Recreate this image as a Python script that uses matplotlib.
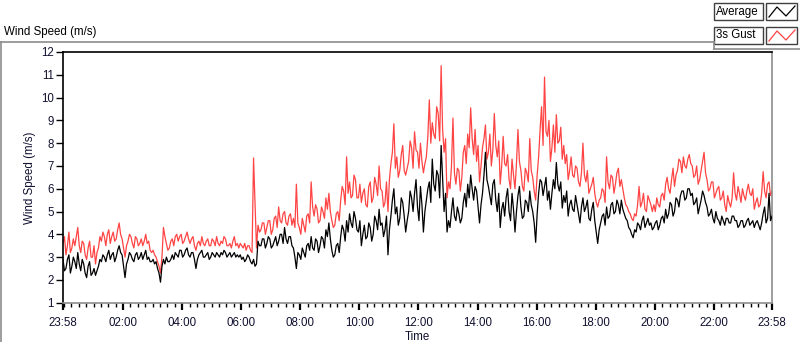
import numpy as np
import matplotlib
matplotlib.use("Agg")
import matplotlib.pyplot as plt
from matplotlib.lines import Line2D
from matplotlib.patches import Rectangle

# ---- data (3-minute samples starting 23:58) ----
sample_minutes = 3
average = [
    2.9, 2.4, 2.5, 2.9, 3.1, 2.3, 2.6, 3.0, 2.8, 2.5, 3.2, 2.7, 2.4, 2.9, 2.7, 2.3, 2.1, 2.6, 2.8, 2.2,
    2.3, 2.5, 2.2, 2.4, 2.6, 2.9, 2.8, 3.1, 3.0, 2.8, 3.1, 3.3, 2.9, 3.1, 3.2, 2.8, 3.0, 3.3, 3.5, 3.2,
    3.1, 2.6, 2.1, 2.7, 2.9, 3.2, 3.1, 2.9, 2.8, 3.1, 3.2, 2.9, 3.0, 3.2, 2.9, 3.1, 3.3, 2.9, 3.0, 2.8,
    2.8, 2.9, 2.7, 2.8, 2.5, 2.3, 1.9, 2.6, 2.9, 2.7, 3.0, 2.8, 2.8, 2.9, 3.1, 2.9, 3.2, 3.1, 3.0, 3.3,
    3.3, 3.0, 3.1, 3.3, 3.4, 3.1, 3.0, 3.2, 3.2, 2.9, 2.5, 2.9, 3.1, 3.2, 3.3, 3.0, 3.0, 3.1, 3.2, 2.9,
    3.0, 3.2, 3.1, 3.0, 3.2, 3.1, 3.0, 3.2, 3.1, 3.3, 3.2, 3.0, 3.1, 3.2, 3.0, 3.1, 3.2, 3.0, 3.1, 3.0,
    3.1, 2.9, 3.0, 2.8, 2.9, 3.1, 3.0, 2.8, 2.7, 2.9, 2.6, 2.7, 3.7, 3.5, 3.5, 3.8, 3.8, 3.4, 3.6, 3.9,
    3.8, 3.4, 3.5, 3.7, 3.9, 3.5, 3.7, 4.0, 4.0, 3.6, 4.3, 3.8, 3.6, 3.9, 3.9, 3.5, 3.4, 3.0, 2.5, 3.2,
    3.1, 2.9, 3.4, 3.2, 3.0, 3.5, 3.6, 3.3, 3.9, 3.4, 3.3, 3.8, 3.7, 3.2, 3.5, 3.9, 3.8, 3.4, 4.2, 3.9,
    4.5, 3.8, 3.3, 3.0, 3.1, 3.5, 3.6, 3.2, 3.9, 4.4, 4.2, 3.7, 4.6, 4.1, 4.9, 4.5, 4.3, 5.0, 4.7, 4.2,
    4.1, 4.6, 3.5, 4.0, 4.4, 3.8, 3.9, 4.5, 4.3, 3.7, 4.0, 4.8, 4.6, 4.2, 5.1, 4.4, 4.5, 3.9, 4.2, 4.8,
    3.1, 4.2, 4.8, 5.5, 6.0, 4.9, 5.2, 4.4, 4.7, 5.6, 5.4, 4.8, 4.1, 4.6, 5.0, 5.9, 5.6, 5.0, 5.8, 6.4,
    5.2, 4.6, 6.1, 5.3, 4.1, 5.0, 5.5, 6.0, 6.3, 5.4, 7.3, 6.2, 5.9, 6.8, 6.6, 5.6, 7.9, 6.4, 5.0, 5.8,
    4.1, 4.6, 4.3, 5.0, 5.6, 4.8, 4.6, 5.2, 4.9, 4.5, 4.7, 5.4, 5.8, 5.2, 6.2, 5.6, 6.6, 6.0, 5.5, 6.1,
    5.9, 5.2, 4.5, 5.3, 5.8, 6.6, 7.6, 6.4, 6.1, 5.7, 5.3, 6.2, 6.4, 5.5, 5.0, 5.8, 4.3, 5.1, 5.4, 4.8,
    5.6, 6.0, 5.0, 4.6, 5.8, 5.1, 4.1, 5.0, 5.7, 6.1, 5.2, 4.7, 4.8, 5.5, 5.4, 5.0, 5.9, 5.3, 5.0, 4.5,
    3.65, 4.9, 5.8, 6.4, 6.3, 5.7, 6.1, 6.5, 5.5, 5.9, 5.1, 5.8, 6.4, 6.0, 7.15, 6.2, 5.9, 6.3, 5.15, 5.7,
    5.4, 5.9, 4.8, 5.3, 5.5, 5.1, 5.0, 5.7, 5.3, 4.9, 4.5, 5.2, 5.6, 5.0, 5.2, 5.5, 4.7, 4.6, 5.1, 5.4,
    4.6, 4.1, 3.6, 4.2, 4.5, 4.8, 4.9, 4.4, 5.2, 4.7, 4.8, 5.3, 5.4, 4.9, 5.0, 5.5, 5.3, 4.9, 5.5, 5.1,
    4.9, 4.7, 4.6, 4.3, 4.2, 4.0, 3.85, 4.2, 4.1, 4.5, 4.4, 4.2, 4.6, 4.8, 4.3, 4.5, 4.7, 4.4, 4.5, 4.2,
    4.3, 4.5, 4.6, 4.2, 4.4, 4.7, 4.8, 4.5, 5.1, 4.7, 4.9, 5.4, 5.3, 4.8, 5.0, 5.6, 5.5, 5.2, 5.7, 5.9,
    5.9, 5.5, 5.6, 6.0, 6.0, 5.7, 5.8, 5.3, 5.4, 5.6, 4.9, 5.2, 5.5, 5.9, 5.7, 5.4, 5.2, 4.8, 4.9, 5.1,
    4.7, 4.5, 5.0, 4.7, 4.6, 4.4, 4.8, 4.6, 4.4, 4.7, 4.7, 4.5, 4.5, 4.8, 4.8, 4.6, 4.6, 4.3, 4.4, 4.6,
    4.6, 4.3, 4.4, 4.6, 4.7, 4.4, 4.5, 4.6, 4.3, 4.5, 4.6, 4.4, 4.2, 4.5, 4.9, 5.2, 4.5, 4.7, 5.8, 4.6,
    4.8,
]
gust_3s = [
    3.6, 3.9, 3.1, 3.5, 4.1, 3.2, 3.4, 3.8, 3.5, 3.9, 4.3, 3.5, 3.2, 3.7, 3.6, 3.1, 2.9, 3.4, 3.7, 3.0,
    3.0, 3.5, 2.7, 3.2, 3.4, 3.9, 3.7, 4.1, 3.9, 3.5, 4.0, 4.2, 3.6, 3.9, 4.1, 3.7, 3.8, 4.2, 4.5, 4.0,
    3.8, 3.4, 3.0, 3.5, 3.7, 4.0, 3.9, 3.6, 3.4, 3.9, 3.8, 3.5, 3.6, 3.8, 3.5, 3.7, 4.0, 3.6, 3.7, 3.3,
    3.2, 3.3, 3.1, 3.0, 2.8, 2.6, 2.3, 3.0, 4.3, 3.9, 3.6, 3.3, 3.4, 3.7, 3.8, 3.5, 3.9, 4.0, 3.7, 3.9,
    4.0, 3.6, 3.7, 3.9, 4.1, 3.8, 3.6, 3.8, 3.9, 3.5, 3.3, 3.6, 3.7, 3.5, 3.9, 3.6, 3.5, 3.7, 3.8, 3.5,
    3.5, 3.8, 3.7, 3.5, 3.9, 3.6, 3.5, 3.7, 3.6, 3.9, 3.8, 3.5, 3.5, 3.6, 3.4, 3.7, 3.9, 3.5, 3.6, 3.4,
    3.6, 3.5, 3.4, 3.6, 3.3, 3.5, 3.5, 3.3, 3.2, 7.35, 5.3, 3.4, 4.4, 4.1, 4.2, 4.5, 4.5, 4.0, 4.3, 4.6,
    4.6, 4.0, 4.2, 4.7, 4.8, 4.3, 5.2, 4.6, 4.5, 4.9, 5.0, 4.5, 4.4, 4.8, 4.9, 4.4, 4.7, 4.3, 6.2, 4.5,
    4.3, 4.0, 4.7, 4.4, 4.1, 4.8, 4.9, 4.5, 6.3, 5.2, 4.8, 5.3, 5.1, 4.5, 4.6, 5.2, 5.0, 4.7, 5.6, 5.1,
    5.8, 5.0, 4.6, 4.3, 4.4, 4.9, 5.0, 4.6, 5.5, 6.1, 5.9, 5.3, 7.4, 5.8, 6.3, 5.6, 5.7, 6.6, 6.4, 5.6,
    5.6, 6.2, 5.4, 5.8, 6.0, 5.3, 5.2, 6.1, 6.3, 5.4, 5.6, 6.5, 6.2, 5.7, 7.0, 6.0, 5.9, 5.2, 5.4, 6.3,
    5.0, 6.4, 7.1, 7.6, 8.85, 6.9, 7.4, 6.5, 6.8, 7.5, 7.9, 6.8, 6.6, 6.9, 7.2, 8.1, 7.8, 6.9, 8.5, 7.7,
    7.6, 6.9, 8.0, 7.2, 6.7, 7.1, 7.4, 8.3, 9.9, 8.0, 8.9, 8.4, 8.2, 9.6, 9.3, 8.1, 11.4, 8.6, 7.6, 8.2,
    5.6, 6.3, 6.0, 7.0, 9.1, 6.7, 6.2, 6.9, 6.8, 5.9, 6.5, 7.6, 7.9, 7.1, 8.4, 7.8, 9.55, 8.2, 7.5, 8.6,
    7.2, 7.9, 6.3, 7.0, 7.8, 8.2, 8.8, 7.3, 7.6, 8.4, 7.0, 7.7, 9.3, 7.9, 7.4, 8.1, 6.2, 7.0, 8.3, 7.1,
    7.0, 7.5, 6.4, 6.0, 7.3, 6.6, 6.0, 7.1, 8.6, 7.2, 6.8, 6.1, 5.9, 6.9, 6.7, 6.3, 8.2, 6.8, 6.5, 5.9,
    5.5, 6.6, 7.4, 8.6, 9.6, 7.9, 10.9, 8.5, 8.3, 9.0, 7.2, 7.8, 8.8, 7.6, 9.25, 8.0, 8.1, 8.7, 7.3, 7.9,
    7.1, 7.5, 6.4, 6.8, 7.4, 6.6, 6.5, 7.0, 6.9, 6.3, 6.1, 6.7, 8.0, 6.6, 6.3, 6.8, 5.8, 6.0, 6.2, 6.5,
    5.8, 5.4, 5.2, 5.5, 5.6, 6.0, 5.9, 5.4, 7.4, 6.3, 6.0, 6.6, 6.5, 5.8, 6.2, 6.7, 6.9, 6.1, 6.4, 6.0,
    5.6, 5.3, 5.2, 5.0, 4.9, 4.7, 4.6, 4.9, 4.8, 5.3, 6.1, 5.2, 5.4, 5.8, 5.1, 5.0, 5.7, 5.5, 5.3, 5.0,
    5.3, 5.0, 5.6, 5.3, 5.2, 5.7, 5.8, 5.5, 6.2, 6.5, 6.0, 5.8, 6.4, 6.9, 6.1, 6.6, 6.8, 7.3, 7.2, 6.7,
    7.4, 7.0, 6.9, 7.3, 7.5, 7.1, 7.0, 6.5, 6.6, 7.0, 6.2, 6.4, 6.8, 7.2, 7.6, 6.7, 6.4, 5.9, 6.0, 6.3,
    6.3, 5.6, 5.8, 6.0, 6.1, 5.5, 5.6, 5.9, 5.3, 5.0, 5.7, 5.4, 5.2, 5.6, 6.7, 5.8, 5.5, 6.1, 5.8, 5.4,
    6.0, 5.7, 5.5, 5.9, 6.2, 5.8, 5.7, 6.0, 5.1, 5.4, 5.6, 5.2, 5.3, 5.8, 6.75, 5.9, 5.6, 6.2, 6.3, 5.7,
    5.9,
]
x_tick_labels = ["23:58", "02:00", "04:00", "06:00", "08:00", "10:00", "12:00",
                 "14:00", "16:00", "18:00", "20:00", "22:00", "23:58"]
y_ticks = list(range(1, 13))
start_label = "23:58"
span_minutes = 1440

# ---- helpers ----
def minutes_from_start(label, idx):
    h, m = map(int, label.split(":"))
    sh, sm = map(int, start_label.split(":"))
    d = (h * 60 + m) - (sh * 60 + sm)
    if d < 0 or (idx > 0 and d == 0):
        d += 1440
    return d

major_pos = [minutes_from_start(l, i) for i, l in enumerate(x_tick_labels)]
minor_pos = [m for m in range(2, span_minutes, 15)]

t_avg = np.arange(len(average)) * sample_minutes
t_gust = np.arange(len(gust_3s)) * sample_minutes

W, H = 800, 342
fig = plt.figure(figsize=(W / 100, H / 100), dpi=100)
fig.patch.set_facecolor("white")
plt.rcParams["font.family"] = ["Liberation Sans", "DejaVu Sans"]

def fx(px):
    return px / W

def fy(py):
    return 1 - py / H

ax = fig.add_axes([fx(63), fy(302.7), fx(772) - fx(63), fy(52) - fy(302.7)])
ax.plot(t_gust, gust_3s, color="#ff4444", lw=0.9, zorder=2)
ax.plot(t_avg, average, color="#000000", lw=0.9, zorder=3)

ax.set_xlim(0, span_minutes)
ax.set_ylim(1, 12)
ax.set_yticks(y_ticks)
ax.set_yticklabels([str(v) for v in y_ticks])
ax.set_xticks(major_pos)
ax.set_xticklabels(x_tick_labels)
ax.set_xticks(minor_pos, minor=True)

txt_color = "#101030"
ax.tick_params(axis="y", direction="out", length=5, width=1, pad=1.5,
               labelsize=8.3, colors="#000000", labelcolor=txt_color)
ax.tick_params(axis="x", which="major", direction="out", length=5, width=1.6,
               pad=5, labelsize=8.3, colors="#000000", labelcolor=txt_color)
ax.tick_params(axis="x", which="minor", direction="out", length=3, width=1,
               colors="#000000")

for s in ["left", "top"]:
    ax.spines[s].set_color("#000000")
    ax.spines[s].set_linewidth(1.2)
for s in ["right", "bottom"]:
    ax.spines[s].set_color("#8c8c8c")
    ax.spines[s].set_linewidth(1.2)

ax.set_ylabel("Wind Speed (m/s)", fontsize=8.3, color=txt_color, labelpad=4)
ax.set_xlabel("Time", fontsize=8.3, color=txt_color, labelpad=2)

# ---- title and frame ----
fig.text(fx(4), fy(32), "Wind Speed (m/s)", fontsize=8.3, color="#000000",
         ha="left", va="center")
frame = dict(color="#8c8c8c", lw=1.2, transform=fig.transFigure)
fig.add_artist(Line2D([fx(0.6), fx(0.6)], [fy(42), fy(342)], **frame))
fig.add_artist(Line2D([fx(0), fx(714)], [fy(42), fy(42)], **frame))
fig.add_artist(Line2D([fx(714), fx(714)], [fy(42), fy(49)], **frame))
fig.add_artist(Line2D([fx(714), fx(800)], [fy(49), fy(49)], **frame))

# ---- legend ----
legend_items = [("Average", "#000000", 3), ("3s Gust", "#ff4444", 27)]
for name, col, top in legend_items:
    fig.add_artist(Rectangle((fx(714), fy(top + 17)), fx(763) - fx(714),
                             fy(top) - fy(top + 17), transform=fig.transFigure,
                             facecolor="white", edgecolor="#404040", lw=1.0))
    fig.text(fx(716), fy(top + 8.5), name, fontsize=8.3, color="#000000",
             ha="left", va="center")
    fig.add_artist(Rectangle((fx(766), fy(top + 17)), fx(797) - fx(766),
                             fy(top) - fy(top + 17), transform=fig.transFigure,
                             facecolor="white", edgecolor="#404040", lw=1.0))
    zx = [769, 777, 786, 795]
    zy = [top + 14, top + 4, top + 13, top + 3]
    fig.add_artist(Line2D([fx(v) for v in zx], [fy(v) for v in zy],
                          color=col, lw=0.9, transform=fig.transFigure))

fig.savefig("out.png", dpi=100, facecolor="white")
